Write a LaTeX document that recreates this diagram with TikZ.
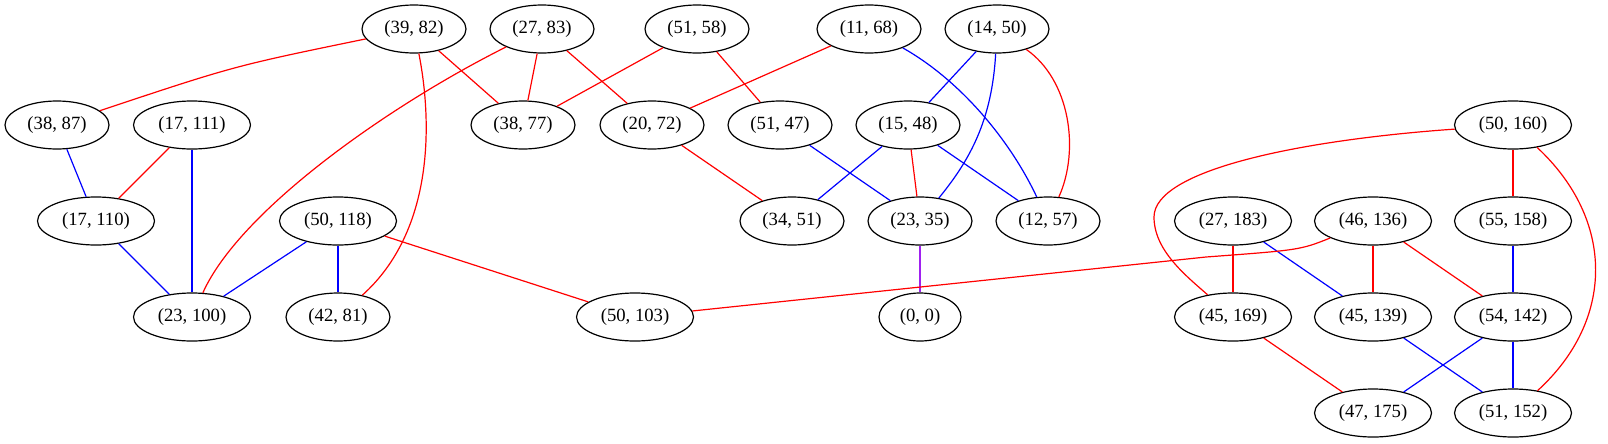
\documentclass[tikz,border=0pt]{standalone}
\usepackage{fontspec}
\setmainfont{Liberation Serif}
\usetikzlibrary{shapes.geometric}
\definecolor{gvpurple}{RGB}{160,32,240}
\tikzset{
  nd/.style={draw=black, line width=0.9pt, ellipse, minimum width=78pt, minimum height=36pt, inner sep=0pt, font=\fontsize{14}{16}\selectfont},
  wnd/.style={nd, minimum width=87.75pt},
  snd/.style={nd, minimum width=61.5pt},
  rd/.style={draw=red, line width=0.9pt},
  bl/.style={draw=blue, line width=0.9pt},
  pu/.style={draw=gvpurple, line width=0.9pt},
}
\begin{document}
\begin{tikzpicture}[x=0.75pt, y=-0.75pt]
\useasboundingbox (0,0) rectangle (1608,443);
% row 1
\node[nd] (a3982) at (414,29) {(39, 82)};
\node[nd] (a2783) at (542,29) {(27, 83)};
\node[nd] (a5158) at (697,29) {(51, 58)};
\node[nd] (a1168) at (869,29) {(11, 68)};
\node[nd] (a1450) at (997,29) {(14, 50)};
% row 2
\node[nd] (a3887) at (57,125) {(38, 87)};
\node[wnd] (a17111) at (192,125) {(17, 111)};
\node[nd] (a3877) at (523,125) {(38, 77)};
\node[nd] (a2072) at (652,125) {(20, 72)};
\node[nd] (a5147) at (780,125) {(51, 47)};
\node[nd] (a1548) at (908,125) {(15, 48)};
\node[wnd] (a50160) at (1513,125) {(50, 160)};
% row 3
\node[wnd] (a17110) at (96,221) {(17, 110)};
\node[wnd] (a50118) at (338,221) {(50, 118)};
\node[nd] (a3451) at (792,221) {(34, 51)};
\node[nd] (a2335) at (920,221) {(23, 35)};
\node[nd] (a1257) at (1048,221) {(12, 57)};
\node[wnd] (a27183) at (1233,221) {(27, 183)};
\node[wnd] (a46136) at (1373,221) {(46, 136)};
\node[wnd] (a55158) at (1513,221) {(55, 158)};
% row 4
\node[wnd] (a23100) at (192,317) {(23, 100)};
\node[nd] (a4281) at (338,317) {(42, 81)};
\node[wnd] (a50103) at (635,317) {(50, 103)};
\node[snd] (a00) at (920,317) {(0, 0)};
\node[wnd] (a45169) at (1233,317) {(45, 169)};
\node[wnd] (a45139) at (1373,317) {(45, 139)};
\node[wnd] (a54142) at (1513,317) {(54, 142)};
% row 5
\node[wnd] (a47175) at (1373,413) {(47, 175)};
\node[wnd] (a51152) at (1513,413) {(51, 152)};
% edges
\draw[rd] (a3982) .. controls (234,66) .. (a3887);
\draw[rd] (a3982) -- (a3877);
\draw[rd] (a3982) .. controls (432,120) and (435,230) .. (a4281);
\draw[rd] (a2783) .. controls (390,105) and (240,210) .. (a23100);
\draw[rd] (a2783) -- (a3877);
\draw[rd] (a2783) -- (a2072);
\draw[rd] (a5158) -- (a3877);
\draw[rd] (a5158) -- (a5147);
\draw[rd] (a1168) -- (a2072);
\draw[bl] (a1168) .. controls (960,80) and (1010,140) .. (a1257);
\draw[bl] (a1450) -- (a1548);
\draw[bl] (a1450) .. controls (992,120) and (970,160) .. (a2335);
\draw[rd] (a1450) .. controls (1070,80) and (1080,150) .. (a1257);
\draw[bl] (a3887) -- (a17110);
\draw[rd] (a17111) -- (a17110);
\draw[bl] (a17111) -- (a23100);
\draw[rd] (a2072) -- (a3451);
\draw[bl] (a5147) -- (a2335);
\draw[bl] (a1548) -- (a3451);
\draw[rd] (a1548) -- (a2335);
\draw[bl] (a1548) -- (a1257);
\draw[bl] (a17110) -- (a23100);
\draw[bl] (a50118) -- (a23100);
\draw[bl] (a50118) -- (a4281);
\draw[rd] (a50118) -- (a50103);
\draw[pu] (a2335) -- (a00);
\draw[rd] (a50160) .. controls (1300,140) and (1154,170) .. (1154,217) .. controls (1154,250) and (1185,275) .. (a45169);
\draw[rd] (a50160) -- (a55158);
\draw[rd] (a50160) .. controls (1615,220) and (1615,320) .. (a51152);
\draw[rd] (a27183) -- (a45169);
\draw[bl] (a27183) -- (a45139);
\draw[rd] (a46136) .. controls (1300,250) .. (1206,257) -- (a50103);
\draw[rd] (a46136) -- (a45139);
\draw[rd] (a46136) -- (a54142);
\draw[bl] (a55158) -- (a54142);
\draw[bl] (a54142) -- (a47175);
\draw[bl] (a54142) -- (a51152);
\draw[rd] (a45169) -- (a47175);
\draw[bl] (a45139) -- (a51152);
\end{tikzpicture}
\end{document}
